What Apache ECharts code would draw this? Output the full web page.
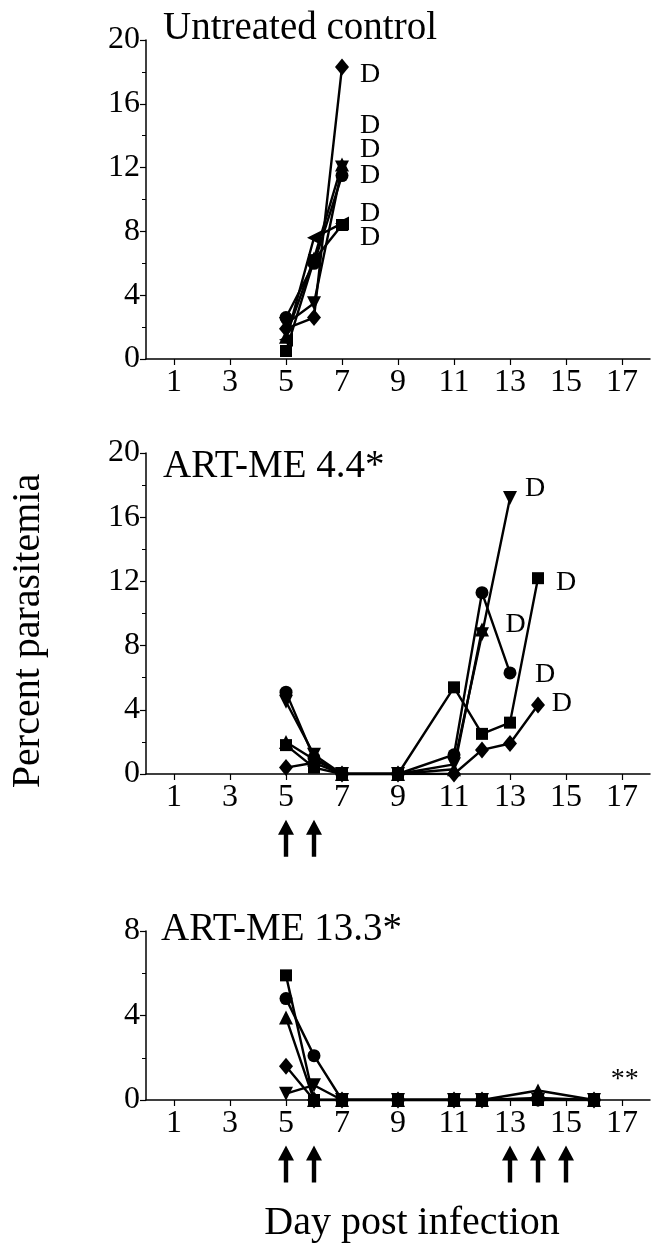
<!DOCTYPE html>
<html><head><meta charset="utf-8">
<script src="https://cdn.jsdelivr.net/npm/echarts@6/dist/echarts.min.js"></script>
<style>html,body{margin:0;padding:0;background:#fff}#c{width:654px;height:1251px}</style>
</head><body><div id="c"></div>
<script>
// ---- data ----
const xTicks = [1,3,5,7,9,11,13,15,17];
// Panel 1: Untreated control
const days1 = [5,6,7];
const p1Diamond = [1.9, 2.6, 18.3];
const p1Circle  = [2.6, 6.0, 11.5];
const p1TriUp   = [1.4, 6.3, 12.2];
const p1TriDown = [2.2, 3.5, 12.0];
const p1Square  = [0.5, 6.2, 8.4];
const p1TriLeft = [1.2, 7.6, 8.5];
const p1Deaths  = [[8.0,17.8],[8.0,14.65],[8.0,13.1],[8.0,11.5],[8.0,9.1],[8.0,7.6]];
// Panel 2: ART-ME 4.4*
const days2 = [5,6,7,9,11,12,13,14];
const p2Circle  = [5.1,1.0,0,0,1.2,11.3,6.3,null];
const p2TriDown = [4.5,1.2,0,0,0.6,8.7,17.2,null];
const p2TriUp   = [2.0,0.9,0,0,0.3,9.0,null,null];
const p2Square  = [1.8,0.4,0,0,5.4,2.5,3.2,12.2];
const p2Diamond = [0.4,0.7,0,0,0.0,1.5,1.9,4.3];
const p2Deaths  = [[13.9,17.8],[15.0,11.9],[13.2,9.3],[14.25,6.2],[14.85,4.4]];
const p2Doses   = [5,6];
// Panel 3: ART-ME 13.3*
const days3 = [5,6,7,9,11,12,14,16];
const p3Square  = [5.9,0,0,0,0,0,0,0];
const p3Circle  = [4.8,2.1,0,0,0,0,0,0];
const p3TriUp   = [3.9,0,0,0,0,0,0.45,0];
const p3Diamond = [1.6,0,0,0,0,0,0.1,0];
const p3TriDown = [0.3,0.7,0,0,0,0,0,0];
const p3Doses   = [5,6,13,14,15];
const p3Note    = [[17.1,0.95]];

// ---- chart ----
const FONT = 'Liberation Serif';
const pair = (xs, ys) => xs.map((x,i) => ys[i] == null ? null : [x, ys[i]]).filter(v => v);
const SYM = {
  diamond: {symbol:'diamond', symbolSize:[14,17], symbolRotate:0},
  circle:  {symbol:'circle', symbolSize:13, symbolRotate:0},
  square:  {symbol:'rect', symbolSize:12, symbolRotate:0},
  triUp:   {symbol:'triangle', symbolSize:14, symbolRotate:0},
  triDown: {symbol:'triangle', symbolSize:14, symbolRotate:180},
  triLeft: {symbol:'triangle', symbolSize:14, symbolRotate:90}
};
function line(idx, xs, ys, kind) {
  const s = SYM[kind];
  return {type:'line', xAxisIndex:idx, yAxisIndex:idx, data:pair(xs,ys),
    symbol:s.symbol, symbolSize:s.symbolSize, symbolRotate:s.symbolRotate, showAllSymbol:true,
    lineStyle:{color:'#000', width:2.4}, itemStyle:{color:'#000', opacity:1}, animation:false, z:3};
}
function labels(idx, pts, text, size) {
  return {type:'scatter', xAxisIndex:idx, yAxisIndex:idx, data:pts, symbolSize:1,
    itemStyle:{color:'rgba(0,0,0,0)', opacity:1}, clip:false, animation:false, silent:true,
    label:{show:true, position:'inside', formatter:text, color:'#000', opacity:1, fontFamily:FONT, fontSize:size}};
}
const ARROW = 'path://M8,0 L16,15 L10.2,15 L10.2,37 L5.8,37 L5.8,15 L0,15 Z';
function arrows(idx, xs, yv) {
  return {type:'scatter', xAxisIndex:idx, yAxisIndex:idx, data:xs.map(x=>[x,yv]),
    symbol:ARROW, symbolSize:[16,37], itemStyle:{color:'#000', opacity:1}, clip:false, animation:false, silent:true};
}
const grids = [
  {left:146, top:40, width:504, height:319},
  {left:146, top:453, width:504, height:321},
  {left:146, top:931, width:504, height:169},
  {left:146, top:440, width:504, height:382}   // holder for the shared y title
];
const xAxes = grids.slice(0,3).map((g,i)=>({type:'value', gridIndex:i, min:0, max:18, interval:1,
  axisLine:{lineStyle:{color:'#000', width:1.5}},
  axisTick:{customValues:xTicks, length:6, lineStyle:{color:'#000', width:1.2}},
  axisLabel:{customValues:xTicks, color:'#000', fontFamily:FONT, fontSize:32, margin:8},
  splitLine:{show:false}}));
xAxes.push({type:'value', gridIndex:3, show:false, min:0, max:1});
const yMax = [20,20,8];
const yAxes = grids.slice(0,3).map((g,i)=>({type:'value', gridIndex:i, min:0, max:yMax[i], interval:4,
  axisLine:{show:true, lineStyle:{color:'#000', width:1.5}},
  axisTick:{show:true, length:6, lineStyle:{color:'#000', width:1.2}},
  minorTick:{show:true, splitNumber:2, length:4, lineStyle:{color:'#000', width:1}},
  axisLabel:{color:'#000', fontFamily:FONT, fontSize:32, margin:6},
  splitLine:{show:false}}));
yAxes.push({type:'value', gridIndex:3, min:0, max:1, axisLine:{show:false}, axisTick:{show:false},
  axisLabel:{show:false}, splitLine:{show:false},
  name:'Percent parasitemia', nameLocation:'middle', nameRotate:90, nameGap:103,
  nameTextStyle:{color:'#000', fontFamily:FONT, fontSize:40}});
const series = [
  line(0, days1, p1Diamond, 'diamond'), line(0, days1, p1Circle, 'circle'),
  line(0, days1, p1TriUp, 'triUp'), line(0, days1, p1TriDown, 'triDown'),
  line(0, days1, p1Square, 'square'), line(0, days1, p1TriLeft, 'triLeft'),
  labels(0, p1Deaths, 'D', 28),
  line(1, days2, p2Circle, 'circle'), line(1, days2, p2TriDown, 'triDown'),
  line(1, days2, p2TriUp, 'triUp'), line(1, days2, p2Square, 'square'),
  line(1, days2, p2Diamond, 'diamond'),
  labels(1, p2Deaths, 'D', 28), arrows(1, p2Doses, -4.0),
  line(2, days3, p3Square, 'square'), line(2, days3, p3Circle, 'circle'),
  line(2, days3, p3TriUp, 'triUp'), line(2, days3, p3Diamond, 'diamond'),
  line(2, days3, p3TriDown, 'triDown'),
  labels(2, p3Note, '**', 28), arrows(2, p3Doses, -3.03)
];
const titleStyle = {color:'#000', fontFamily:FONT, fontSize:39, fontWeight:'normal'};
const chart = echarts.init(document.getElementById('c'), null, {renderer:'canvas'});
chart.setOption({
  backgroundColor:'#fff', animation:false,
  title:[
    {text:'Untreated control', left:158, top:4, textStyle:titleStyle},
    {text:'ART-ME 4.4*', left:158, top:442, textStyle:titleStyle},
    {text:'ART-ME 13.3*', left:156, top:905, textStyle:titleStyle},
    {text:'Day post infection', left:407, textAlign:'center', top:1198, textStyle:{color:'#000', fontFamily:FONT, fontSize:40, fontWeight:'normal'}}
  ],
  grid:grids, xAxis:xAxes, yAxis:yAxes, series:series
});
</script></body></html>
